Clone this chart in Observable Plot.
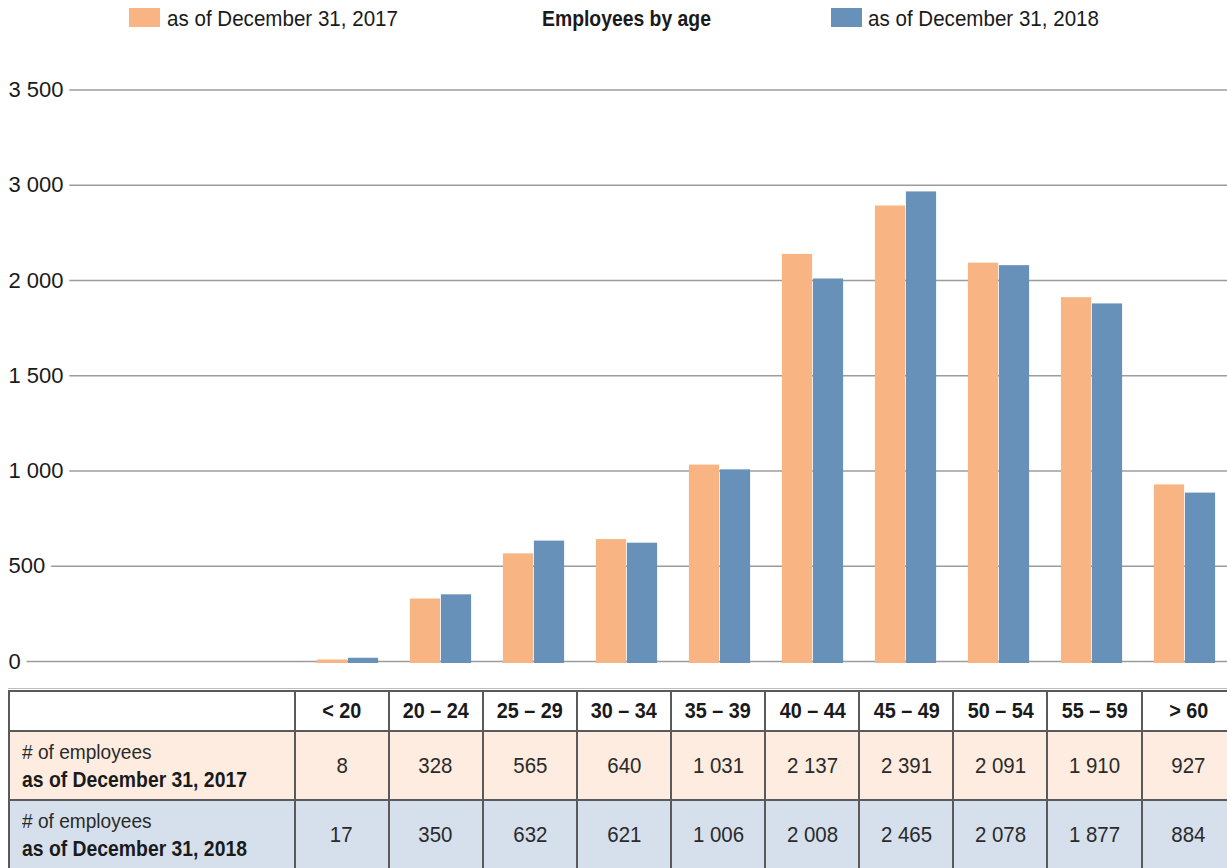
<!DOCTYPE html>
<html><head><meta charset="utf-8">
<script src="https://cdn.jsdelivr.net/npm/d3@7"></script>
<script src="https://cdn.jsdelivr.net/npm/@observablehq/plot@0.6"></script>
<style>
html,body{margin:0;padding:0;background:#fff}
body{width:1227px;height:868px;overflow:hidden;position:relative;font-family:"Liberation Sans",Arial,sans-serif;color:#1a1a1a}
#head{position:absolute;left:0;top:0;width:1227px;height:40px}
.sw{position:absolute;top:8px;width:31px;height:19px}
.lt{position:absolute;top:8px;font-size:22px;line-height:22px;white-space:nowrap;transform:scaleX(0.935);transform-origin:0 50%}
.title{position:absolute;top:8px;left:542px;font-size:22px;line-height:22px;font-weight:bold;white-space:nowrap;transform:scaleX(0.88);transform-origin:0 50%}
#chart{position:absolute;left:0;top:40px}
#topline{position:absolute;left:8px;top:688px;width:1219px;height:1px;background:#bdbdbd}
table{position:absolute;left:8px;top:690px;border-collapse:collapse;table-layout:fixed;width:1227px}
td,th{border:2px solid #5a5a5a;padding:0;text-align:center;vertical-align:middle;font-size:22px;color:#2a2a2a;white-space:nowrap}
th{height:38px;font-weight:bold;color:#1a1a1a}
td{height:67px}
.sx{display:inline-block;transform:scaleX(0.93)}
th .sx{transform:scaleX(0.9)}
td.lab{text-align:left;padding-left:12px;font-size:22px;line-height:28px}
td.lab .sx{transform:scaleX(0.88);transform-origin:0 50%}
td.lab .l1{font-size:21px;transform:scaleX(0.91)}
td.lab b{font-weight:bold;color:#1a1a1a}
</style></head>
<body>
<div id="head"></div>
<div id="chart"></div>
<div id="topline"></div>
<div id="tablewrap"></div>
<script>
const ageGroups = ["< 20","20 – 24","25 – 29","30 – 34","35 – 39","40 – 44","45 – 49","50 – 54","55 – 59","> 60"];
const employees2017 = [8,328,565,640,1031,2137,2391,2091,1910,927];
const employees2018 = [17,350,632,621,1006,2008,2465,2078,1877,884];
const seriesNames = ["as of December 31, 2017","as of December 31, 2018"];
const seriesColors = ["#F8B482","#6891BA"];
const rowColors = ["#FDECDF","#D6E0EC"];
const yTickValues = [0,500,1000,1500,2000,2500,3000];
const yTickLabels = ["0","500","1 000","1 500","2 000","3 000","3 500"];
const chartTitle = "Employees by age";
const rowLabelTop = "# of employees";

const fmt = d3.formatLocale({decimal:".", thousands:" ", grouping:[3], currency:["",""]}).format(",");

// header: legend + title
const head = d3.select("#head");
head.append("div").attr("class","sw").style("left","129px").style("background",seriesColors[0]);
head.append("div").attr("class","lt").style("left","167px").text(seriesNames[0]);
head.append("div").attr("class","title").text(chartTitle);
head.append("div").attr("class","sw").style("left","831px").style("background",seriesColors[1]);
head.append("div").attr("class","lt").style("left","868px").text(seriesNames[1]);

// chart
const bars = ageGroups.flatMap((g,i)=>[
  {group:g, series:seriesNames[0], value:employees2017[i]},
  {group:g, series:seriesNames[1], value:employees2018[i]}
]);
const xRange = [297, 1235];
const step = (xRange[1]-xRange[0])/ageGroups.length;
const bw = 31;
const svg = Plot.plot({
  width:1227, height:649,
  marginLeft:8, marginRight:0, marginTop:0, marginBottom:0,
  x:{type:"band", domain:ageGroups, range:xRange, padding:0, axis:null},
  y:{domain:[0,3000], range:[621,49.5], axis:null},
  color:{domain:seriesNames, range:seriesColors},
  marks:[
    Plot.ruleY(yTickValues, {stroke:"#9c9c9c", strokeWidth:1.5}),
    Plot.text(yTickValues, {y:d=>d, text:(d,i)=>yTickLabels[i], frameAnchor:"left", textAnchor:"start",
      fontSize:22, fill:"#1a1a1a", stroke:"white", strokeWidth:13, paintOrder:"stroke",
      fontFamily:"'Liberation Sans', Arial, sans-serif"}),
    Plot.barY(bars.filter(d=>d.series===seriesNames[0]), {x:"group", y:"value", fill:"series",
      insetLeft:step/2-bw, insetRight:step/2, insetBottom:-2}),
    Plot.barY(bars.filter(d=>d.series===seriesNames[1]), {x:"group", y:"value", fill:"series",
      insetLeft:step/2, insetRight:step/2-bw, insetBottom:-2})
  ]
});
document.getElementById("chart").appendChild(svg);

// table
const table = d3.select("#tablewrap").append("table");
const cg = table.append("colgroup");
cg.append("col").style("width","285.7px");
ageGroups.forEach(()=>cg.append("col").style("width","94.1px"));
const hr = table.append("tr");
hr.append("th");
ageGroups.forEach(g=>hr.append("th").append("span").attr("class","sx").text(g));
[employees2017, employees2018].forEach((vals, k)=>{
  const tr = table.append("tr");
  const lab = tr.append("td").attr("class","lab").style("background", rowColors[k]);
  lab.append("span").attr("class","sx l1").text(rowLabelTop);
  lab.append("br");
  lab.append("b").attr("class","sx").text(seriesNames[k]);
  vals.forEach(v=>tr.append("td").style("background", rowColors[k]).append("span").attr("class","sx").text(fmt(v)));
});
</script>
</body></html>
